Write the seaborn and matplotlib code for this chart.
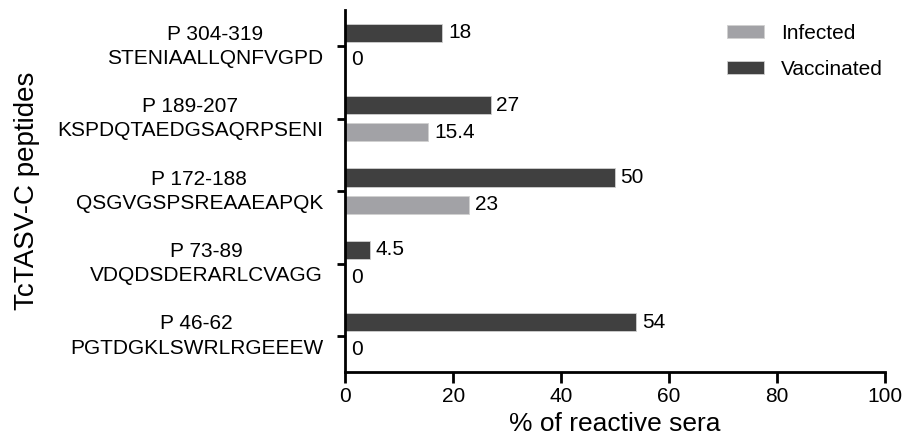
import pandas as pd
import matplotlib
matplotlib.use("Agg")
import matplotlib.pyplot as plt
import seaborn as sns

peptides = ["P 304-319\nSTENIAALLQNFVGPD",
            "P 189-207\nKSPDQTAEDGSAQRPSENI",
            "P 172-188\nQSGVGSPSREAAEAPQK",
            "P 73-89\nVDQDSDERARLCVAGG",
            "P 46-62\nPGTDGKLSWRLRGEEEW"]
vaccinated = [18, 27, 50, 4.5, 54]
infected = [0, 15.4, 23, 0, 0]
vacc_labels = ["18", "27", "50", "4.5", "54"]
inf_labels = ["0", "15.4", "23", "0", "0"]

df = pd.DataFrame({
    "peptide": peptides * 2,
    "value": vaccinated + infected,
    "group": ["Vaccinated"] * 5 + ["Infected"] * 5,
})

sns.set_style("white")
plt.rcParams["font.family"] = ["Liberation Sans", "DejaVu Sans"]
plt.rcParams["text.color"] = "black"
plt.rcParams["axes.labelcolor"] = "black"
plt.rcParams["xtick.color"] = "black"
plt.rcParams["ytick.color"] = "black"

fig = plt.figure(figsize=(9.11, 4.42), dpi=100)
ax = fig.add_axes([0.379, 0.158, 0.592, 0.819])

palette = {"Vaccinated": "#404040", "Infected": "#a2a2a6"}
sns.barplot(data=df, y="peptide", x="value", hue="group", order=peptides,
            hue_order=["Vaccinated", "Infected"], palette=palette,
            width=0.75, gap=0.33, ax=ax, saturation=1, legend=True,
            edgecolor="#d0d0d0", linewidth=0.6)

for cont, labs in zip(ax.containers, [vacc_labels, inf_labels]):
    ax.bar_label(cont, labels=labs, padding=4, fontsize=15)

ax.set_xlim(0, 100)
ax.set_xticks([0, 20, 40, 60, 80, 100])
ax.minorticks_off()
ax.tick_params(axis="x", labelsize=15, length=8, width=2, direction="out",
               bottom=True, pad=3)
ax.tick_params(axis="y", labelsize=15, length=6, width=2, direction="out",
               left=True, pad=10)
for lab in ax.get_yticklabels():
    lab.set_horizontalalignment("right")
    lab.set_verticalalignment("center")
    lab.set_multialignment("center")
    lab.set_linespacing(1.35)

ax.set_xlabel("% of reactive sera", fontsize=19, labelpad=4)
ax.set_ylabel("TcTASV-C peptides", fontsize=20, labelpad=12)

for s in ["top", "right"]:
    ax.spines[s].set_visible(False)
for s in ["left", "bottom"]:
    ax.spines[s].set_color("black")
    ax.spines[s].set_linewidth(2)

handles, labels = ax.get_legend_handles_labels()
ax.legend(handles[::-1], labels[::-1], loc="upper right", frameon=False,
          fontsize=15, handlelength=1.8, handleheight=0.6, labelspacing=0.8,
          handletextpad=0.8, borderaxespad=0.0, bbox_to_anchor=(1.012, 0.985))

fig.savefig("out.png", dpi=100)
